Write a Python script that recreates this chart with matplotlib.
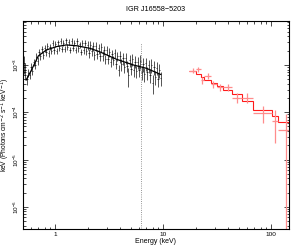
import matplotlib
matplotlib.use("Agg")
import matplotlib.pyplot as plt
import matplotlib.ticker as ticker
import numpy as np

plt.rcParams['font.family'] = ['Liberation Sans', 'DejaVu Sans']
plt.rcParams['mathtext.fontset'] = 'dejavusans'

# --- low energy (black) spectrum, flux in units of 1e-3 keV (Photons cm^-2 s^-1 keV^-1)
black_energy = [
    0.515, 0.532, 0.550, 0.566, 0.583, 0.600, 0.617, 0.635, 0.654, 0.673,
    0.692, 0.713, 0.733, 0.755, 0.777, 0.799, 0.823, 0.847, 0.871, 0.897,
    0.923, 0.950, 0.977, 1.006, 1.035, 1.065, 1.096, 1.128, 1.161, 1.195,
    1.230, 1.266, 1.303, 1.341, 1.380, 1.420, 1.462, 1.504, 1.548, 1.593,
    1.640, 1.688, 1.737, 1.788, 1.840, 1.893, 1.949, 2.006, 2.064, 2.125,
    2.187, 2.250, 2.316, 2.384, 2.453, 2.525, 2.599, 2.675, 2.753, 2.833,
    2.916, 3.001, 3.089, 3.179, 3.272, 3.367, 3.466, 3.567, 3.671, 3.778,
    3.888, 4.002, 4.119, 4.239, 4.363, 4.490, 4.621, 4.756, 4.895, 5.038,
    5.185, 5.336, 5.492, 5.652, 5.817, 5.987, 6.162, 6.342, 6.527, 6.717,
    6.913, 7.115, 7.323, 7.536, 7.756, 7.983, 8.216, 8.456, 8.703, 8.957,
    9.218, 9.488]
black_flux = [
    1.10, 0.80, 0.50, 0.69, 0.62, 0.92, 0.74, 1.13, 0.99, 1.50,
    1.23, 1.89, 1.51, 2.18, 1.60, 2.28, 1.85, 2.57, 1.78, 2.44,
    2.00, 2.90, 2.04, 2.78, 1.97, 3.00, 2.28, 3.20, 2.20, 2.92,
    2.16, 3.30, 2.44, 3.13, 2.11, 3.21, 2.30, 2.98, 2.10, 3.16,
    2.25, 2.72, 1.90, 2.89, 2.05, 2.94, 1.94, 2.62, 1.79, 2.68,
    1.94, 2.50, 1.62, 2.54, 1.69, 2.23, 1.52, 2.37, 1.58, 2.10,
    1.36, 2.06, 1.36, 1.90, 1.18, 1.73, 1.28, 1.79, 1.07, 1.56,
    0.79, 1.55, 1.03, 1.42, 0.92, 1.43, 0.97, 0.60, 1.26, 0.84,
    1.31, 0.79, 1.18, 0.74, 1.16, 0.77, 1.22, 0.71, 1.04, 0.65,
    1.08, 0.70, 0.98, 0.61, 0.99, 0.42, 0.90, 0.56, 0.88, 0.51,
    0.80, 0.53]
black_err = [
    0.45, 0.30, 0.12, 0.13, 0.12, 0.17, 0.14, 0.20, 0.18, 0.26,
    0.22, 0.32, 0.26, 0.36, 0.27, 0.37, 0.30, 0.40, 0.29, 0.39,
    0.32, 0.44, 0.32, 0.42, 0.30, 0.45, 0.34, 0.48, 0.33, 0.44,
    0.32, 0.50, 0.37, 0.47, 0.32, 0.48, 0.35, 0.45, 0.32, 0.47,
    0.34, 0.41, 0.29, 0.43, 0.31, 0.44, 0.29, 0.58, 0.39, 0.59,
    0.43, 0.55, 0.36, 0.56, 0.37, 0.49, 0.33, 0.52, 0.35, 0.46,
    0.30, 0.45, 0.30, 0.42, 0.26, 0.38, 0.28, 0.39, 0.24, 0.34,
    0.20, 0.43, 0.29, 0.40, 0.26, 0.40, 0.27, 0.25, 0.35, 0.24,
    0.37, 0.22, 0.33, 0.21, 0.32, 0.22, 0.39, 0.23, 0.33, 0.21,
    0.35, 0.22, 0.31, 0.20, 0.32, 0.18, 0.29, 0.18, 0.28, 0.16,
    0.26, 0.17]

# model curve for the low energy data (same units)
black_model_energy = [0.54, 0.605, 0.70, 0.83, 1.03, 1.27, 1.58, 2.1, 2.59, 3.7, 5.3, 7.0, 9.5]
black_model_flux = [0.48, 0.78, 1.55, 2.07, 2.44, 2.65, 2.55, 2.25, 1.90, 1.32, 1.00, 0.85, 0.63]

# narrow iron line component
line_energy = 6.2
line_top = 2.9e-3

# --- high energy (red) spectrum
red_edges = [17.5, 20.1, 22.2, 24.0, 27.5, 31.2, 35.9, 43.0, 53.2, 68.1, 100.9, 116.0, 150.0]
red_energy = [18.7, 21.1, 23.0, 25.9, 29.0, 33.5, 39.5, 47.8, 60.0, 84.0, 108.0, 136.0]
red_flux = [7.6e-4, 8.1e-4, 4.8e-4, 5.9e-4, 3.9e-4, 3.4e-4, 3.4e-4, 2.04e-4, 2.04e-4, 9.8e-5, 6.6e-5, 4.3e-5]
red_low = [6.6e-4, 7.0e-4, 4.0e-4, 5.0e-4, 3.2e-4, 2.8e-4, 2.8e-4, 1.6e-4, 1.55e-4, 6.0e-5, 2.2e-5, 1e-8]
red_high = [8.6e-4, 9.2e-4, 5.6e-4, 6.8e-4, 4.6e-4, 4.0e-4, 4.0e-4, 2.5e-4, 2.55e-4, 1.36e-4, 1.12e-4, 9.0e-5]
red_model = [7.6e-4, 6.45e-4, 5.6e-4, 4.9e-4, 4.1e-4, 3.6e-4, 2.96e-4, 2.4e-4, 1.76e-4, 1.12e-4, 8.3e-5, 6.3e-5]

fig = plt.figure(figsize=(2.91, 2.49), dpi=100)
ax = fig.add_axes([22.5 / 291, 20 / 249, 266.5 / 291, 208 / 249])

be = np.array(black_energy)
bf = np.array(black_flux) * 1e-3
berr = np.array(black_err) * 1e-3
mid = np.sqrt(be[1:] * be[:-1])
lo_edge = np.concatenate([[be[0] ** 2 / mid[0]], mid])
hi_edge = np.concatenate([mid, [be[-1] ** 2 / mid[-1]]])
ax.errorbar(be, bf, yerr=berr, xerr=[be - lo_edge, hi_edge - be], fmt='none',
            ecolor='k', elinewidth=0.55, alpha=0.85)
ax.plot(black_model_energy, np.array(black_model_flux) * 1e-3, color='k', lw=0.9)

ax.plot([line_energy, line_energy], [1e-8, line_top], color='0.45', lw=0.6, ls=':')

re = np.array(red_energy)
redges = np.array(red_edges)
rf = np.array(red_flux)
ax.errorbar(re, rf, xerr=[re - redges[:-1], redges[1:] - re],
            yerr=[rf - np.array(red_low), np.array(red_high) - rf],
            fmt='none', ecolor='#ff8c8c', elinewidth=0.9)
ax.stairs(red_model, redges, baseline=None, color='#ff1a1a', lw=0.8)

ax.set_xscale('log')
ax.set_yscale('log')
ax.set_xlim(0.5, 146)
ax.set_ylim(3.4e-7, 8.5e-3)

ax.xaxis.set_major_formatter(ticker.FuncFormatter(lambda v, p: '%g' % v))
ax.tick_params(which='both', direction='in', top=True, right=True, labelsize=4.6, width=0.5)
ax.tick_params(which='major', length=3.5, pad=2)
ax.tick_params(axis='y', which='major', pad=1)
ax.tick_params(which='minor', length=1.8)
for lab in ax.get_yticklabels():
    lab.set_rotation(90)
    lab.set_va('center')
for s in ax.spines.values():
    s.set_linewidth(0.8)

ax.set_xlabel('Energy (keV)', fontsize=5, labelpad=1)
fig.text(5.5 / 291, 0.498, 'keV (Photons cm$^{-2}$ s$^{-1}$ keV$^{-1}$)', fontsize=4.8,
         rotation=90, ha='center', va='center')
ax.set_title('IGR J16558\u22125203', fontsize=5.2, pad=7)

fig.savefig('out.png', dpi=100)
